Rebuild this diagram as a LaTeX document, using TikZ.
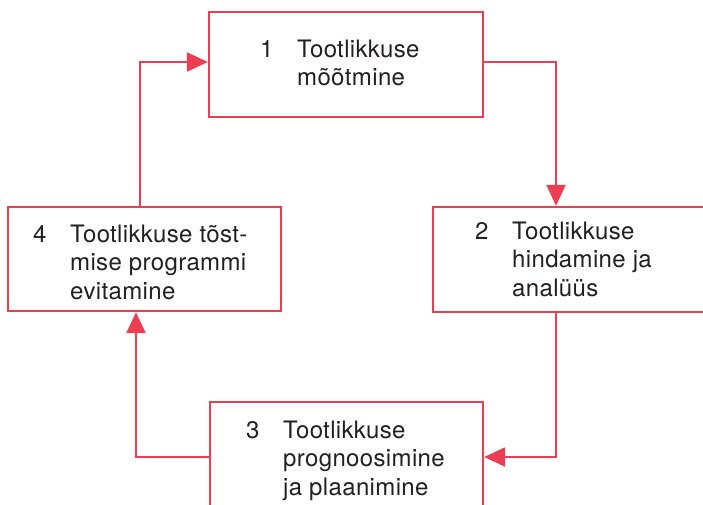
\documentclass[tikz,border=0pt]{standalone}
\usepackage{fontspec}
\setmainfont{TeX Gyre Heros}[LetterSpace=1.5]
\usetikzlibrary{arrows.meta}
\definecolor{flowred}{RGB}{236,62,82}
\definecolor{ink}{RGB}{35,31,32}
\newcommand{\stepnum}[1]{\makebox[37pt][l]{#1}}
\tikzset{
  box/.style={draw=flowred, line width=2.3pt, fill=white, rectangle, inner sep=0pt},
  label/.style={anchor=base west, inner sep=0pt, text=ink,
    font=\fontsize{24}{28.5}\selectfont},
  link/.style={draw=flowred, line width=2.3pt,
    -{Triangle[length=21pt,width=19pt]}},
}
\begin{document}
\begin{tikzpicture}[x=1pt,y=-1pt]
\useasboundingbox (0,0) rectangle (703,504);
\clip (0,0) rectangle (703,504);

% process boxes
\node[box, minimum width=274pt, minimum height=105pt] (b1) at (346,64.5) {};
\node[box, minimum width=287pt, minimum height=105pt] (b2) at (576.5,259.5) {};
\node[box, minimum width=273pt, minimum height=118pt] (b3) at (346.5,461) {};
\node[box, minimum width=273pt, minimum height=104pt] (b4) at (144.5,259) {};

% box texts
\node[label] (t1) at (260,57) {\begin{tabular}[t]{@{}l@{}l@{}}
  \stepnum{1} & Tootlikkuse\\ & mõõtmine\end{tabular}};
\node[label] (t2) at (475,239) {\begin{tabular}[t]{@{}l@{}l@{}}
  \stepnum{2} & Tootlikkuse\\ & hindamine ja\\ & analüüs\end{tabular}};
\node[label] (t3) at (246,438) {\begin{tabular}[t]{@{}l@{}l@{}}
  \stepnum{3} & Tootlikkuse\\ & prognoosimine\\ & ja plaanimine\end{tabular}};
\node[label] (t4) at (33,242) {\begin{tabular}[t]{@{}l@{}l@{}}
  \stepnum{4} & Tootlikkuse tõst-\\ & mise programmi\\ & evitamine\end{tabular}};

% routing guides
\coordinate (k1) at (0,62);
\coordinate (k2) at (556,0);
\coordinate (k3) at (0,457);
\coordinate (k4) at (140,0);
\coordinate (k5) at (136,0);

% cycle connectors
\draw[link] (b4.north -| k4) |- (b1.west |- k1);
\draw[link] (b1.east |- k1) -| (b2.north -| k2);
\draw[link] (b2.south -| k2) |- (b3.east |- k3);
\draw[link] (b3.west |- k3) -| (b4.south -| k5);
\end{tikzpicture}
\end{document}
